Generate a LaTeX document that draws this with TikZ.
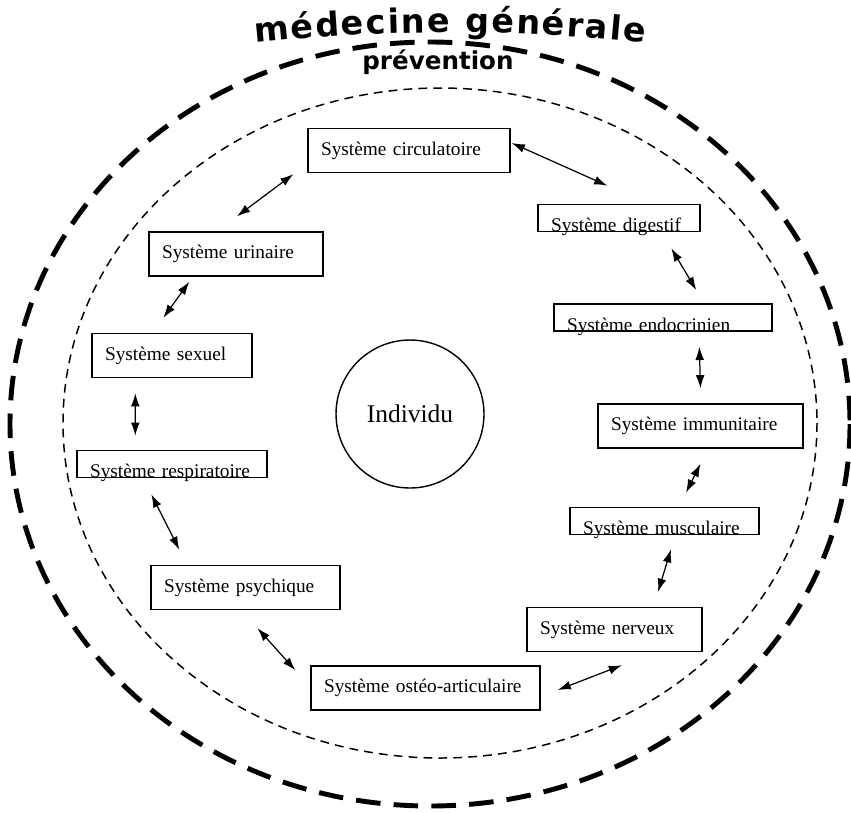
\documentclass[tikz,border=0pt]{standalone}
\usepackage{fontspec}
\setmainfont{Liberation Serif}
\newfontfamily\headfont{DejaVu Sans}
\usetikzlibrary{arrows.meta,calc,decorations.text}

\begin{document}
\begin{tikzpicture}[x=0.02cm, y=-0.02cm,
    sys/.style = {draw, rectangle, line width=0.8pt, align=left, inner xsep=0.26cm,
        minimum height=0.88cm, font=\fontsize{11}{13}\selectfont},
    cut/.style = {sys, minimum height=0pt, inner ysep=0pt, text height=15.5pt, text depth=0pt},
    link/.style = {<->, >={Latex[length=7.5pt,width=5pt]}, line width=0.7pt}]
    \useasboundingbox (0,0) rectangle (851,812);
    % the two rings
    \draw[line width=2.8pt, dash pattern=on 14pt off 7.5pt] (430,424) ellipse [x radius=420, y radius=382];
    \draw[line width=0.85pt, dash pattern=on 5pt off 3.5pt] (440,423) ellipse [x radius=377, y radius=335];
    \path[decorate, decoration={text along path, text align=fit to path,
        text={|\headfont\bfseries\fontsize{19}{19}\selectfont|médecine générale}}]
        (255,43) .. controls (390,29) and (510,29) .. (645,43);
    \node[font=\headfont\bfseries\fontsize{14}{14}\selectfont] (prev) at (438,62) {prévention};
    % systems
    \node[sys, text width=3.52cm] (circ) at (409,150.5) {Système circulatoire};
    \node[cut, text width=2.72cm] (dig) at (619,218) {Système digestif};
    \node[sys, text width=2.96cm] (uri) at (236,254) {Système urinaire};
    \node[cut, text width=3.84cm] (endo) at (663,317.5) {Système endocrinien};
    \node[sys, text width=2.68cm] (sex) at (172,355.5) {Système sexuel};
    \node[draw, circle, line width=0.8pt, minimum size=2.96cm, font=\fontsize{14.5}{16}\selectfont] (indiv) at (410,414) {Individu};
    \node[sys, text width=3.58cm] (immu) at (700.5,426) {Système immunitaire};
    \node[cut, text width=3.28cm] (resp) at (172,464) {Système respiratoire};
    \node[cut, text width=3.26cm] (musc) at (664.5,521) {Système musculaire};
    \node[sys, text width=3.26cm] (psy) at (245.5,587.5) {Système psychique};
    \node[sys, text width=2.98cm] (nerv) at (614.5,629.5) {Système nerveux};
    \node[sys, text width=4.06cm] (osteo) at (425.5,688) {Système ostéo-articulaire};
    % links
    \draw[link] ($(uri.north)+(1,-15)$) -- ($(circ.south west)+(-14,1)$);
    \draw[link] ($(circ.east)+(1,-7.5)$) -- ($(dig.north west)+(70,-18)$);
    \draw[link] ($(dig.south west)+(134,16)$) -- ($(endo.north west)+(143,-13)$);
    \draw[link] ($(endo.south west)+(146,15)$) -- ($(immu.north)+(0,-15)$);
    \draw[link] ($(immu.south)+(0,15)$) -- ($(musc.north)+(21.5,-14)$);
    \draw[link] ($(musc.south)+(6.5,14)$) -- ($(nerv.north)+(43.5,-15)$);
    \draw[link] ($(nerv.south)+(7.5,13)$) -- ($(osteo.east)+(17,2)$);
    \draw[link] ($(osteo.north west)+(-15,5)$) -- ($(psy.south)+(12,18)$);
    \draw[link] ($(psy.north west)+(29,-15)$) -- ($(resp.south west)+(75,16)$);
    \draw[link] ($(resp.north west)+(59,-14)$) -- ($(sex.south west)+(44,15)$);
    \draw[link] ($(sex.north west)+(72,-15)$) -- ($(uri.south west)+(41,5)$);
\end{tikzpicture}
\end{document}
